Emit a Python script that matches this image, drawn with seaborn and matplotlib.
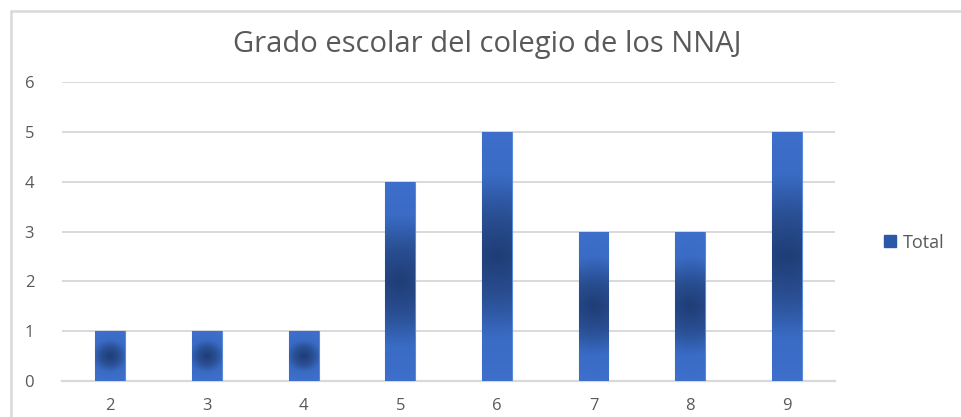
import numpy as np
import pandas as pd
import matplotlib
matplotlib.use("Agg")
import matplotlib.pyplot as plt
from matplotlib.colors import LinearSegmentedColormap
from matplotlib.lines import Line2D
from matplotlib.patches import Patch
import seaborn as sns

# Data
grados = ["2", "3", "4", "5", "6", "7", "8", "9"]
totales = [1, 1, 1, 4, 5, 3, 3, 5]

sns.set_theme(style="white")
plt.rcParams["font.family"] = ["Open Sans", "DejaVu Sans"]

text_gray = "#595959"
grid_gray = "#d9d9d9"
light_blue = "#3a6cc6"
dark_blue = "#1f3d76"

df = pd.DataFrame({"Grado": grados, "Total": totales})

fig = plt.figure(figsize=(9.61, 4.17), dpi=100)
ax = fig.add_axes([0.0645, 0.0863, 0.8045, 0.717])

sns.barplot(data=df, x="Grado", y="Total", color=light_blue, width=0.31,
            saturation=1, ax=ax, zorder=2)

# Excel-like gradient fill: dark in the middle of each bar, lighter at the edges
cmap = LinearSegmentedColormap.from_list("bar_grad", [dark_blue, "#2a4f93", light_blue, "#3d6fcb"])
yy, xx = np.mgrid[-1:1:200j, -1:1:60j]
for patch in list(ax.patches):
    x0, y0 = patch.get_x(), patch.get_y()
    w, h = patch.get_width(), patch.get_height()
    hpx = h * 50.0
    fx = min(1.0, 30.0 / max(hpx, 1)) * 0.9
    dist = np.clip(np.sqrt(yy ** 2 + (xx * fx) ** 2), 0, 1)
    im = ax.imshow(dist, cmap=cmap, vmin=0, vmax=1, extent=[x0, x0 + w, y0, y0 + h],
                   aspect="auto", origin="lower", zorder=3, interpolation="bilinear")
    im.set_clip_path(patch)
    patch.set_edgecolor("#5a8ad8")
    patch.set_linewidth(0.8)

ax.set_xlim(-0.5, len(grados) - 0.5)
ax.set_ylim(0, 6)
ax.set_yticks(range(0, 7))
ax.yaxis.grid(True, color=grid_gray, linewidth=1.4, zorder=0)
ax.set_axisbelow(True)
for side in ["top", "right", "left"]:
    ax.spines[side].set_visible(False)
ax.spines["bottom"].set_color(grid_gray)
ax.spines["bottom"].set_linewidth(1.6)
ax.spines["bottom"].set_zorder(1)
ax.tick_params(axis="both", length=0, colors=text_gray, labelsize=12)
ax.tick_params(axis="y", pad=20)
ax.tick_params(axis="x", pad=12)
ax.set_xlabel("")
ax.set_ylabel("")

fig.text(0.507, 0.893, "Grado escolar del colegio de los NNAJ", ha="center", va="center",
         fontsize=21, color=text_gray)

handle = Patch(facecolor="#2c58a8", edgecolor="#2c58a8")
fig.legend([handle], ["Total"], loc="center left", bbox_to_anchor=(0.903, 0.418),
           frameon=False, fontsize=13, labelcolor=text_gray, handlelength=0.65,
           handleheight=0.65, handletextpad=0.4)

# chart area border (top and left only are visible)
fig.add_artist(Line2D([0.011, 0.011], [0.0, 0.973], transform=fig.transFigure,
                      color=grid_gray, linewidth=1.8))
fig.add_artist(Line2D([0.011, 1.0], [0.973, 0.973], transform=fig.transFigure,
                      color=grid_gray, linewidth=1.8))

fig.savefig("out.png", dpi=100)
